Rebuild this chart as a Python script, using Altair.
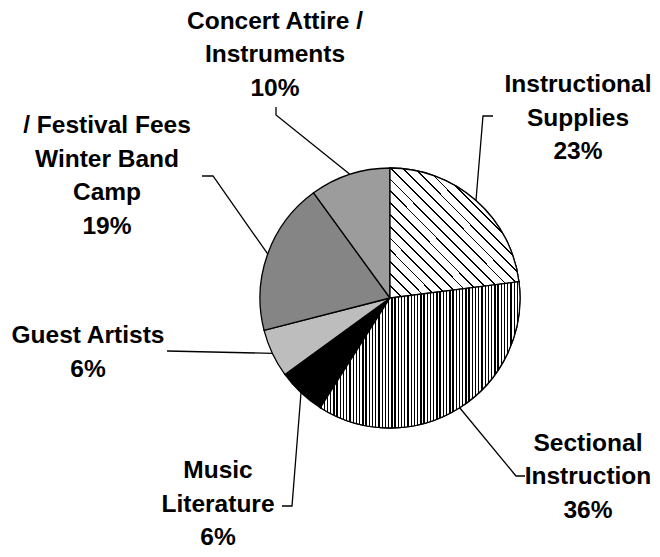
import math
import altair as alt
import pandas as pd

# ---------------- data ----------------
categories = [
    "Instructional Supplies",
    "Sectional Instruction",
    "Music Literature",
    "Guest Artists",
    "Winter Band Camp / Festival Fees",
    "Concert Attire / Instruments",
]
values = [23, 36, 6, 6, 19, 10]
label_names = [
    "Instructional\nSupplies",
    "Sectional\nInstruction",
    "Music\nLiterature",
    "Guest Artists",
    "/ Festival Fees\nWinter Band\nCamp",
    "Concert Attire /\nInstruments",
]

# ---------------- layout / style ----------------
W, H = 644, 541
OFF = 8  # page margin
CX, CY, R = 390 - OFF, 298 - OFF, 130
FONT = "Liberation Sans, Arial, sans-serif"
FS = 24.5
LH = 33.5

solid_fill = ["#ffffff", "#ffffff", "#000000", "#bdbdbd", "#858585", "#9c9c9c"]

# first-line baseline of each label (page coordinates)
label_anchor = [(578, 92), (588, 450.5), (218, 478), (88, 343), (107, 133), (275, 28.5)]
# leader line bends (page coordinates), after the pie-edge point
leader_bends = [
    [(483, 116), (493, 116)],
    [(516, 476), (525, 476)],
    [(292, 506), (282, 506)],
    [(167, 351)],
    [(213, 176), (202, 176)],
    [(276, 115), (276, 107)],
]

# ---------------- tables ----------------
total = sum(values)
df = pd.DataFrame({"cat": categories, "value": values, "idx": list(range(len(values)))})

lab_rows = []
for i, (c, v) in enumerate(zip(categories, values)):
    ax, ay = label_anchor[i]
    lab_rows.append({"cat": c, "text": f"{label_names[i]}\n{v}%",
                     "lx": ax - OFF, "ly": ay - OFF - round(0.79 * FS)})
lab_df = pd.DataFrame(lab_rows)

line_rows = []
cum = 0
for i, (c, v) in enumerate(zip(categories, values)):
    mid = (cum + v / 2) / total * 2 * math.pi
    cum += v
    pts = [(CX + R * math.sin(mid), CY - R * math.cos(mid))]
    pts += [(x - OFF, y - OFF) for x, y in leader_bends[i]]
    for k, (x, y) in enumerate(pts):
        line_rows.append({"cat": c, "k": k, "px": x, "py": y})
line_df = pd.DataFrame(line_rows)


def stripes(n, dark_frac, dark, light, x1, y1, x2, y2):
    stops = []
    for k in range(n):
        a = k / n
        b = (k + dark_frac) / n
        e = (k + 1) / n
        stops += [
            alt.GradientStop(color=dark, offset=a),
            alt.GradientStop(color=dark, offset=b),
            alt.GradientStop(color=light, offset=b),
            alt.GradientStop(color=light, offset=e),
        ]
    return alt.LinearGradient(gradient="linear", stops=stops, x1=x1, y1=y1, x2=x2, y2=y2)


theta_scale = alt.Scale(domain=[0, total], range=[0, 2 * math.pi])

base = (
    alt.Chart(df)
    .transform_window(cum="sum(value)", sort=[alt.SortField("idx")])
    .transform_calculate(start="datum.cum - datum.value")
)

pie = base.mark_arc(radius=R, x=CX, y=CY, stroke="black", strokeWidth=1.3).encode(
    theta=alt.Theta("start:Q", scale=theta_scale, stack=None),
    theta2="cum:Q",
    fill=alt.Fill("cat:N", scale=alt.Scale(domain=categories, range=solid_fill), legend=None),
)

supplies = base.transform_filter(alt.datum.cat == categories[0]).mark_arc(
    radius=R, x=CX, y=CY, stroke="black", strokeWidth=1.3,
    fill=stripes(22, 0.15, "#000000", "#ffffff", 0, 1, 1, 0),
).encode(
    theta=alt.Theta("start:Q", scale=theta_scale, stack=None),
    theta2="cum:Q",
)

sectional = base.transform_filter(alt.datum.cat == categories[1]).mark_arc(
    radius=R, x=CX, y=CY, stroke="black", strokeWidth=1.3,
    fill=stripes(62, 0.42, "#000000", "#ffffff", 0, 0, 1, 0),
).encode(
    theta=alt.Theta("start:Q", scale=theta_scale, stack=None),
    theta2="cum:Q",
)

leaders = alt.Chart(line_df).mark_line(color="black", strokeWidth=1.3).encode(
    x=alt.X("px:Q", scale=None, axis=None),
    y=alt.Y("py:Q", scale=None, axis=None),
    detail="cat:N",
    order="k:Q",
)

labels = alt.Chart(lab_df).mark_text(
    font=FONT, fontSize=FS, fontWeight="bold", color="black",
    align="center", baseline="top", lineBreak="\n", lineHeight=LH,
).encode(
    x=alt.X("lx:Q", scale=None, axis=None),
    y=alt.Y("ly:Q", scale=None, axis=None),
    text="text:N",
)

chart = (
    alt.layer(pie, supplies, sectional, leaders, labels)
    .properties(width=W, height=H, padding=0, autosize=alt.AutoSizeParams(type="none"))
    .configure_view(stroke=None)
)

chart.save("out.html", embed_options={"renderer": "svg", "actions": False})
